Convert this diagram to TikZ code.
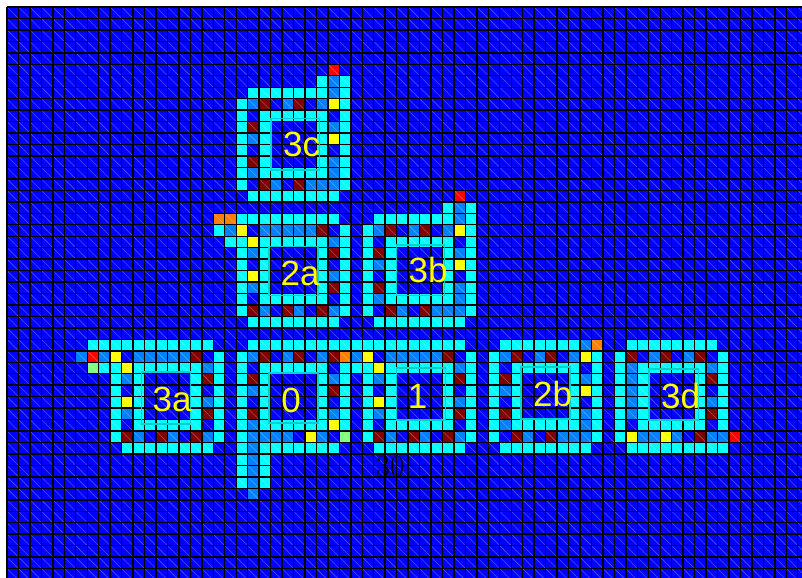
\documentclass[tikz,border=0pt]{standalone}
\usepackage{xcolor}
\usepackage{fontspec}
\newfontfamily\labelfont{Liberation Sans}
\definecolor{cellblue}{RGB}{0, 0, 255}
\definecolor{cellmid}{RGB}{0, 128, 255}
\definecolor{cellcyan}{RGB}{0, 255, 255}
\definecolor{cellyellow}{RGB}{255, 255, 0}
\definecolor{cellmaroon}{RGB}{128, 0, 0}
\definecolor{cellred}{RGB}{255, 0, 0}
\definecolor{cellorange}{RGB}{255, 128, 0}
\definecolor{cellgreen}{RGB}{128, 255, 128}
\definecolor{framecyan}{RGB}{0, 208, 208}
\tikzset{
    gridline/.style={black, line width=1.4pt},
    diagline/.style={white, opacity=0.3, line width=0.6pt},
    innerframe/.style={framecyan, line width=1.1pt},
    blocklabel/.style={anchor=base, inner sep=0pt, cellyellow, font=\labelfont\fontsize{35}{35}\selectfont},
}
\newcommand{\paintcells}[2]{\foreach \c/\r in {#2} \fill[#1] (\c,\r) rectangle ++(1,1);}
\begin{document}
\begin{tikzpicture}[x=11.46pt, y=-11.46pt]
    \useasboundingbox (-0.611,-0.611) rectangle (69.37,49.74);
    \fill[white] (-0.611,-0.611) rectangle (69.37,49.74);
    \begin{scope}
        \clip (-0.07,-0.07) rectangle (69.37,49.74);
        \fill[cellblue] (0,0) rectangle (70,50);

        % spiral bodies
        \foreach \ix/\ry in {22/9, 33/20, 22/20, 11/31, 22/31, 33/31, 44/31, 55/31} {
            \fill[cellcyan] (\ix,\ry) rectangle ++(6,1);
            \fill[cellcyan] (\ix,\ry+5) rectangle ++(6,1);
            \fill[cellcyan] (\ix,\ry) rectangle ++(1,6);
            \fill[cellcyan] (\ix+5,\ry) rectangle ++(1,6);
            \fill[cellcyan] (\ix-1,\ry-2) rectangle ++(8,1);
            \fill[cellcyan] (\ix-1,\ry+7) rectangle ++(8,1);
            \fill[cellcyan] (\ix-2,\ry-1) rectangle ++(1,8);
            \fill[cellcyan] (\ix+7,\ry-1) rectangle ++(1,8);
        }
        \paintcells{cellcyan}{27/6, 29/6, 29/7, 38/17, 40/17, 40/18, 20/18, 18/19, 19/20, 7/29, 8/29, 9/29, 8/31, 9/31,
            29/29, 30/29, 31/29, 30/31, 20/38, 20/39, 20/40, 20/41, 22/39, 22/40, 22/41, 62/38}

        \paintcells{cellmid}{28/6, 28/7, 21/8, 24/8, 27/8, 28/10, 21/11, 28/13, 21/14, 28/14, 23/15, 26/15, 27/15, 28/15,
            39/17, 39/18, 32/19, 35/19, 38/19, 39/21, 32/22, 39/24, 32/25, 39/25, 34/26, 37/26, 38/26, 39/26,
            19/19, 22/19, 23/19, 24/19, 25/19, 26/19, 28/20, 21/21, 28/23, 21/24, 22/26, 25/26, 28/26,
            6/30, 8/30, 11/30, 12/30, 13/30, 14/30, 15/30, 17/31, 10/32, 17/34, 10/35, 11/37, 14/37, 17/37,
            21/30, 24/30, 27/30, 30/30, 28/32, 21/33, 28/35, 21/36, 21/37, 22/37, 23/37, 24/37, 27/37,
            21/38, 21/39, 21/40, 21/41, 21/42,
            33/30, 34/30, 35/30, 36/30, 37/30, 39/31, 32/32, 39/34, 32/35, 33/37, 36/37, 39/37,
            50/29, 43/30, 46/30, 49/30, 50/32, 43/33, 50/35, 43/36, 50/36, 45/37, 48/37, 49/37, 50/37,
            56/30, 59/30, 54/31, 61/31, 54/32, 54/33, 54/34, 54/35, 61/34, 55/37, 56/37, 58/37, 61/37, 62/37}

        \paintcells{cellmaroon}{22/8, 25/8, 21/10, 21/13, 22/15, 25/15,
            33/19, 36/19, 32/21, 32/24, 33/26, 36/26,
            27/19, 28/21, 28/24, 21/26, 24/26, 27/26,
            16/30, 17/32, 17/35, 10/37, 13/37, 16/37,
            22/30, 25/30, 28/30, 21/32, 28/33, 21/35,
            38/30, 39/32, 39/35, 32/37, 35/37, 38/37,
            44/30, 47/30, 43/32, 43/35, 44/37, 47/37,
            54/30, 57/30, 60/30, 61/32, 61/35, 60/37}

        \paintcells{cellyellow}{28/8, 28/11, 39/19, 39/22, 20/19, 21/20, 21/23, 9/30, 10/31, 10/34,
            28/36, 26/37, 31/30, 32/31, 32/34, 50/30, 50/33, 54/37, 57/37}
        \paintcells{cellred}{28/5, 39/16, 7/30, 63/37}
        \paintcells{cellorange}{18/18, 19/18, 29/30, 51/29}
        \paintcells{cellgreen}{7/31, 29/37}

        \foreach \k in {-50,...,70}
            \draw[diagline] (\k,0) -- (\k+50,50);
        \foreach \c in {0,...,69}
            \draw[gridline] (\c,0) -- (\c,50);
        \foreach \r in {0,...,49}
            \draw[gridline] (0,\r) -- (70,\r);
    \end{scope}

    % frames and labels
    \foreach \name/\xa/\ya/\xb/\yb/\lx/\ly in {
        3c/23.04/9.71/27.25/14.22/25.71/13.06,
        2a/22.86/20.86/27.14/25.20/25.57/24.26,
        3b/34.00/20.77/38.20/25.20/36.74/24.08,
        3a/11.75/31.85/16.03/36.39/14.40/35.31,
        0/22.86/31.94/27.14/36.30/24.78/35.40,
        1/34.00/31.50/38.30/36.04/35.83/34.99,
        2b/44.85/31.41/49.13/35.95/47.60/34.88,
        3d/56.02/31.59/60.30/36.04/58.77/34.99} {
        \draw[innerframe] (\xa,\ya) rectangle (\xb,\yb);
        \node[blocklabel] (label\name) at (\lx,\ly) {\name};
    }

    \node[black, inner sep=0pt, font=\fontsize{31}{31}\selectfont] (labelcount) at (33.42,40.1) {30};
\end{tikzpicture}
\end{document}
